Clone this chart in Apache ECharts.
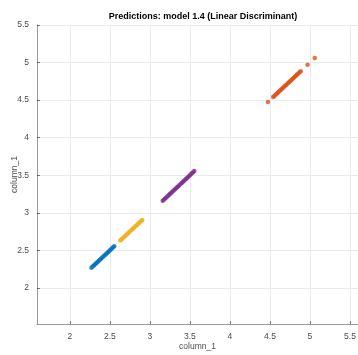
<!DOCTYPE html>
<html><head><meta charset="utf-8">
<script src="https://cdn.jsdelivr.net/npm/echarts@6/dist/echarts.min.js"></script>
<style>html,body{margin:0;padding:0;background:#fff}#c{width:358px;height:355px}</style>
</head><body><div id="c"></div>
<script>
const tickValues = [2, 2.5, 3, 3.5, 4, 4.5, 5, 5.5];
const blueVals = [2.27,2.285,2.30,2.315,2.33,2.345,2.36,2.375,2.39,2.405,2.42,2.435,2.45,2.465,2.48,2.495,2.51,2.525,2.54,2.555];
const yellowVals = [2.63,2.64,2.655,2.67,2.685,2.70,2.715,2.73,2.745,2.76,2.775,2.79,2.805,2.82,2.835,2.85,2.865,2.88,2.895,2.905];
const purpleVals = [3.16,3.175,3.19,3.205,3.22,3.235,3.25,3.265,3.28,3.295,3.31,3.325,3.34,3.355,3.37,3.39,3.405,3.42,3.435,3.45,3.465,3.48,3.495,3.51,3.525,3.54,3.555];
const orangeVals = [4.475,4.54,4.555,4.57,4.585,4.60,4.615,4.63,4.645,4.66,4.675,4.69,4.705,4.72,4.735,4.75,4.765,4.78,4.795,4.81,4.825,4.84,4.855,4.87,4.885,4.97,5.06];

const pairs = a => a.map(v => [v, v]);
const font = 'Liberation Sans, Arial, Helvetica, sans-serif';
const mk = (vals, color) => ({type:'scatter', data: pairs(vals), symbolSize: 4.5, itemStyle:{color}, silent:true});
const axisCommon = {
  nameMoveOverlap:false,
  axisLine:{show:true, lineStyle:{color:'#262626', width:0.8, opacity:0.6}},
  axisTick:{show:true, inside:true, length:3, customValues: tickValues, lineStyle:{color:'#262626', opacity:0.6}},
  axisLabel:{customValues: tickValues, color:'#4d4d4d', fontSize:8.5, fontFamily:font, formatter: v => String(v)},
  splitLine:{show:true, lineStyle:{color:'#e6e6e6', width:0.8}},
  nameTextStyle:{color:'#4d4d4d', fontSize:8.5, fontFamily:font}
};
const chart = echarts.init(document.getElementById('c'), null, {renderer:'canvas'});
chart.setOption({
  animation:false,
  title:{text:'Predictions: model 1.4 (Linear Discriminant)', left:198, textAlign:'center', top:7,
    textStyle:{fontSize:9, fontWeight:'bold', color:'#000', fontFamily:font}},
  grid:{left:37, right:0, top:25, bottom:31, containLabel:false, outerBoundsMode:'none'},
  xAxis:Object.assign({type:'value', min:1.59, max:5.6, name:'column_1', nameLocation:'middle', nameGap:18}, axisCommon),
  yAxis:Object.assign({type:'value', min:1.52, max:5.5, name:'column_1', nameLocation:'middle', nameGap:18}, axisCommon),
  series:[mk(blueVals,'#0072BD'), mk(yellowVals,'#EDB120'), mk(purpleVals,'#7E2F8E'), mk(orangeVals,'#D95319')]
});
</script></body></html>
